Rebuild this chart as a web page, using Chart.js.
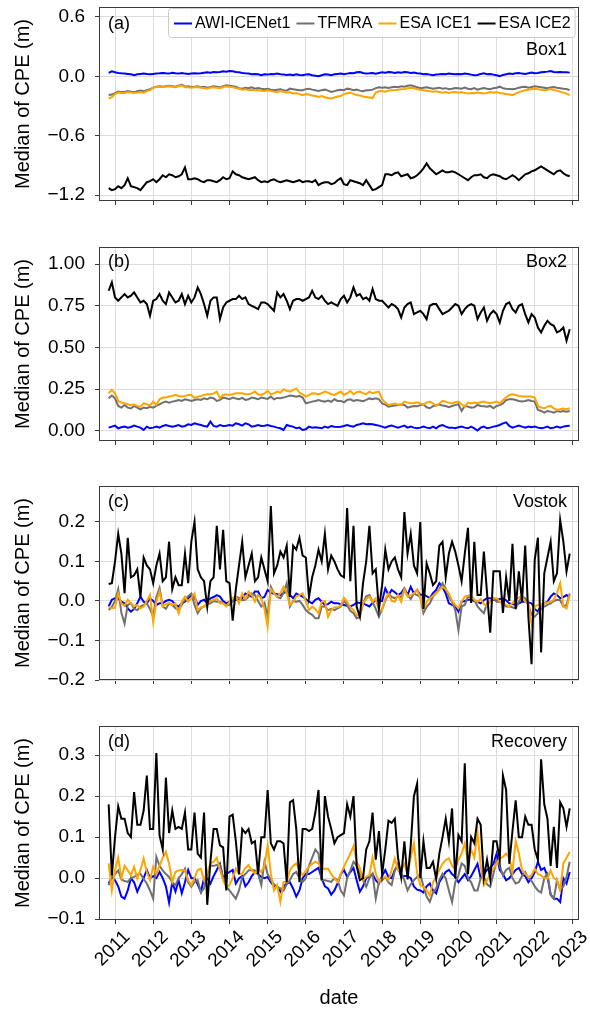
<!DOCTYPE html>
<html><head><meta charset="utf-8">
<script src="https://cdn.jsdelivr.net/npm/chart.js@4.4.1/dist/chart.umd.min.js"></script>
<style>
html,body{margin:0;padding:0;background:#fff;}
body{width:590px;height:1010px;position:relative;overflow:hidden;}
canvas{position:absolute;left:0;}
</style></head><body>
<canvas id="pa" width="590" height="215" style="top:0px"></canvas>
<canvas id="pb" width="590" height="215" style="top:240px"></canvas>
<canvas id="pc" width="590" height="215" style="top:479px"></canvas>
<canvas id="pd" width="590" height="291" style="top:719px"></canvas>
<script>
// ---- categories: monthly dates, Nov 2010 .. Dec 2022 (decimal years) ----
const N_MONTHS = 146;
const months = Array.from({length: N_MONTHS}, (_, i) => 2010 + (10 + i) / 12);
const yearTicks = [2011,2012,2013,2014,2015,2016,2017,2018,2019,2020,2021,2022,2023];
const seriesNames = ['AWI-ICENet1','TFMRA','ESA ICE1','ESA ICE2'];

// ---- Panel (a) Box1 ----
const awiA = [0.034,0.05,
0.04,0.034,0.03,0.027,0.024,0.02,0.01,0.02,0.024,0.027,0.022,0.02,
0.024,0.027,0.03,0.034,0.03,0.027,0.035,0.03,0.027,0.034,0.027,0.024,
0.027,0.03,0.027,0.03,0.035,0.04,0.037,0.044,0.04,0.044,0.05,0.047,
0.054,0.05,0.044,0.04,0.034,0.03,0.027,0.02,0.024,0.02,0.01,0.02,
0.017,0.024,0.02,0.027,0.02,0.017,0.014,0.017,0.01,0.02,0.014,0.01,
0.017,0.02,0.01,0.005,0.0,0.01,0.02,0.017,0.01,0.02,0.024,0.027,
0.02,0.027,0.034,0.03,0.04,0.044,0.034,0.027,0.03,0.034,0.027,0.034,
0.04,0.037,0.044,0.04,0.034,0.04,0.037,0.044,0.04,0.034,0.037,0.03,
0.027,0.02,0.024,0.017,0.01,0.017,0.02,0.024,0.02,0.027,0.024,0.02,
0.024,0.02,0.027,0.024,0.017,0.01,0.014,0.024,0.03,0.02,0.024,0.017,
0.01,0.0,0.014,0.02,0.027,0.024,0.03,0.034,0.027,0.024,0.03,0.037,
0.03,0.034,0.04,0.044,0.047,0.054,0.044,0.04,0.044,0.04,0.04,0.037];
const tfmraA = [-0.19,-0.185,
-0.17,-0.155,-0.16,-0.158,-0.15,-0.155,-0.16,-0.152,-0.145,-0.15,-0.14,-0.13,
-0.115,-0.105,-0.1,-0.105,-0.1,-0.095,-0.1,-0.105,-0.095,-0.085,-0.105,-0.1,
-0.108,-0.105,-0.1,-0.11,-0.105,-0.115,-0.108,-0.1,-0.105,-0.112,-0.1,-0.09,
-0.095,-0.1,-0.105,-0.12,-0.125,-0.115,-0.12,-0.112,-0.125,-0.118,-0.125,-0.13,
-0.125,-0.135,-0.14,-0.135,-0.13,-0.14,-0.145,-0.125,-0.13,-0.135,-0.142,-0.14,
-0.13,-0.125,-0.135,-0.142,-0.148,-0.14,-0.135,-0.145,-0.158,-0.15,-0.142,-0.135,
-0.14,-0.125,-0.13,-0.14,-0.135,-0.145,-0.15,-0.142,-0.14,-0.135,-0.12,-0.11,
-0.115,-0.11,-0.118,-0.11,-0.105,-0.11,-0.1,-0.105,-0.095,-0.09,-0.1,-0.11,
-0.12,-0.115,-0.11,-0.118,-0.125,-0.12,-0.115,-0.125,-0.12,-0.13,-0.125,-0.118,
-0.12,-0.125,-0.115,-0.125,-0.13,-0.12,-0.135,-0.125,-0.118,-0.125,-0.13,-0.12,
-0.115,-0.105,-0.12,-0.125,-0.128,-0.132,-0.125,-0.115,-0.108,-0.105,-0.115,-0.108,
-0.1,-0.105,-0.11,-0.115,-0.12,-0.112,-0.108,-0.115,-0.12,-0.125,-0.128,-0.14];
const ice1A = [-0.225,-0.21,
-0.18,-0.165,-0.17,-0.168,-0.16,-0.165,-0.17,-0.165,-0.16,-0.165,-0.15,-0.14,
-0.118,-0.105,-0.105,-0.11,-0.102,-0.1,-0.105,-0.11,-0.1,-0.092,-0.11,-0.112,
-0.115,-0.11,-0.108,-0.115,-0.118,-0.125,-0.115,-0.11,-0.115,-0.12,-0.108,-0.102,
-0.105,-0.11,-0.118,-0.125,-0.135,-0.13,-0.14,-0.135,-0.142,-0.138,-0.145,-0.148,
-0.142,-0.15,-0.155,-0.16,-0.15,-0.158,-0.165,-0.16,-0.175,-0.17,-0.18,-0.19,
-0.18,-0.185,-0.195,-0.2,-0.21,-0.2,-0.212,-0.22,-0.225,-0.215,-0.205,-0.2,
-0.18,-0.172,-0.165,-0.178,-0.19,-0.195,-0.205,-0.21,-0.215,-0.22,-0.165,-0.15,
-0.148,-0.155,-0.145,-0.14,-0.138,-0.135,-0.13,-0.128,-0.12,-0.115,-0.12,-0.13,
-0.135,-0.142,-0.145,-0.15,-0.155,-0.152,-0.158,-0.165,-0.16,-0.168,-0.16,-0.158,
-0.165,-0.16,-0.17,-0.175,-0.168,-0.172,-0.165,-0.17,-0.175,-0.168,-0.16,-0.165,
-0.158,-0.17,-0.175,-0.18,-0.185,-0.19,-0.175,-0.16,-0.15,-0.142,-0.135,-0.128,
-0.125,-0.13,-0.135,-0.14,-0.135,-0.128,-0.138,-0.145,-0.155,-0.165,-0.175,-0.19];
const ice2A = [
-1.13,-1.15,-1.14,-1.11,-1.13,-1.10,-1.03,-1.11,-1.12,-1.13,-1.15,-1.11,
-1.07,-1.06,-1.04,-1.07,-1.04,-1.00,-1.02,-0.99,-1.00,-1.02,-1.01,-0.99,
-0.92,-1.04,-1.04,-1.03,-1.04,-1.06,-1.07,-1.05,-1.05,-1.06,-1.07,-1.05,
-1.02,-1.04,-1.03,-0.96,-0.99,-1.00,-1.02,-1.03,-1.04,-1.03,-1.02,-1.05,
-1.07,-1.06,-1.07,-1.05,-1.04,-1.06,-1.07,-1.06,-1.05,-1.06,-1.07,-1.06,
-1.05,-1.07,-1.06,-1.06,-1.07,-1.05,-1.10,-1.08,-1.07,-1.07,-1.09,-1.08,
-1.05,-1.03,-1.09,-1.10,-1.05,-1.06,-1.07,-1.08,-1.10,-1.05,-1.10,-1.15,
-1.14,-1.12,-1.10,-0.99,-0.99,-1.00,-0.98,-0.97,-1.01,-1.00,-0.99,-1.03,
-1.02,-1.00,-0.97,-0.93,-0.88,-0.93,-0.96,-0.99,-0.97,-0.95,-0.97,-0.97,
-0.96,-0.97,-0.99,-1.01,-1.03,-1.05,-1.02,-1.00,-1.00,-0.99,-1.02,-1.03,
-1.00,-0.99,-1.00,-1.01,-1.03,-1.04,-1.02,-1.00,-1.02,-1.05,-1.02,-0.99,
-0.98,-0.96,-0.95,-0.93,-0.91,-0.93,-0.95,-0.97,-0.99,-0.96,-0.95,-0.98,
-1.00,-1.01];

// ---- Panel (b) Box2 ----
const awiB = [
0.02,0.026,0.032,0.016,0.022,0.026,0.02,0.024,0.032,0.026,0.02,0.006,
0.026,0.016,0.02,0.026,0.02,0.03,0.036,0.03,0.026,0.03,0.036,0.026,
0.03,0.04,0.036,0.046,0.04,0.036,0.03,0.026,0.056,0.03,0.026,0.036,
0.03,0.032,0.036,0.032,0.046,0.04,0.032,0.046,0.04,0.026,0.03,0.036,
0.03,0.032,0.036,0.03,0.026,0.02,0.016,0.006,0.036,0.03,0.026,0.016,
0.02,0.006,0.01,0.026,0.02,0.022,0.02,0.016,0.026,0.02,0.03,0.026,
0.024,0.026,0.03,0.036,0.03,0.026,0.036,0.04,0.046,0.04,0.042,0.04,
0.036,0.032,0.026,0.02,0.028,0.032,0.026,0.02,0.026,0.032,0.02,0.026,
0.02,0.016,0.02,0.026,0.02,0.016,0.026,0.016,0.03,0.036,0.026,0.02,
0.02,0.016,0.022,0.026,0.02,0.016,0.026,0.016,0.003,0.02,0.026,0.016,
0.02,0.026,0.03,0.036,0.046,0.052,0.03,0.02,0.026,0.032,0.026,0.02,
0.026,0.022,0.026,0.02,0.016,0.02,0.026,0.016,0.02,0.026,0.02,0.026,
0.03,0.032];
const tfmraB = [
0.196,0.212,0.196,0.15,0.14,0.156,0.14,0.135,0.15,0.14,0.13,0.14,
0.136,0.145,0.14,0.15,0.16,0.17,0.176,0.17,0.176,0.18,0.186,0.18,
0.19,0.186,0.18,0.186,0.19,0.186,0.196,0.19,0.2,0.196,0.18,0.186,
0.2,0.196,0.19,0.2,0.194,0.19,0.198,0.186,0.19,0.2,0.196,0.19,
0.2,0.196,0.192,0.206,0.19,0.198,0.196,0.2,0.206,0.212,0.21,0.205,
0.21,0.2,0.166,0.17,0.176,0.18,0.186,0.18,0.176,0.182,0.175,0.19,
0.18,0.18,0.172,0.186,0.19,0.18,0.186,0.182,0.178,0.186,0.195,0.19,
0.196,0.19,0.165,0.158,0.146,0.15,0.152,0.155,0.158,0.156,0.14,0.145,
0.15,0.148,0.155,0.158,0.142,0.136,0.148,0.155,0.158,0.152,0.15,0.143,
0.15,0.155,0.16,0.12,0.15,0.146,0.14,0.142,0.156,0.15,0.148,0.145,
0.15,0.136,0.15,0.155,0.165,0.185,0.19,0.19,0.186,0.18,0.176,0.18,
0.186,0.18,0.176,0.126,0.12,0.11,0.12,0.116,0.11,0.12,0.115,0.12,
0.115,0.12];
const ice1B = [
0.226,0.246,0.226,0.18,0.17,0.166,0.16,0.155,0.158,0.15,0.146,0.166,
0.16,0.152,0.176,0.156,0.19,0.2,0.2,0.206,0.21,0.216,0.21,0.206,
0.21,0.216,0.216,0.198,0.206,0.21,0.216,0.22,0.22,0.225,0.236,0.196,
0.216,0.22,0.216,0.22,0.226,0.226,0.226,0.22,0.22,0.225,0.236,0.22,
0.216,0.225,0.24,0.22,0.225,0.236,0.23,0.25,0.24,0.236,0.245,0.255,
0.23,0.22,0.206,0.215,0.226,0.225,0.22,0.226,0.236,0.23,0.22,0.216,
0.226,0.236,0.216,0.226,0.24,0.22,0.232,0.236,0.225,0.22,0.236,0.226,
0.232,0.236,0.19,0.17,0.156,0.16,0.165,0.158,0.156,0.176,0.17,0.166,
0.168,0.172,0.165,0.158,0.17,0.176,0.166,0.15,0.165,0.18,0.176,0.17,
0.165,0.172,0.176,0.16,0.146,0.17,0.165,0.17,0.166,0.172,0.176,0.17,
0.166,0.17,0.176,0.165,0.185,0.2,0.216,0.22,0.215,0.21,0.206,0.206,
0.206,0.206,0.2,0.15,0.14,0.136,0.146,0.15,0.136,0.126,0.13,0.135,
0.13,0.136];
const ice2B = [
0.84,0.89,0.80,0.78,0.80,0.82,0.80,0.81,0.83,0.80,0.77,0.78,
0.76,0.69,0.78,0.79,0.82,0.78,0.76,0.83,0.80,0.77,0.78,0.82,
0.76,0.81,0.77,0.80,0.86,0.82,0.76,0.69,0.78,0.80,0.80,0.67,
0.74,0.77,0.78,0.79,0.79,0.81,0.79,0.80,0.76,0.75,0.74,0.73,
0.77,0.77,0.76,0.74,0.72,0.83,0.80,0.82,0.78,0.73,0.78,0.79,
0.79,0.78,0.79,0.80,0.84,0.80,0.79,0.81,0.78,0.76,0.77,0.76,
0.75,0.79,0.81,0.77,0.80,0.86,0.81,0.82,0.79,0.80,0.78,0.85,
0.79,0.78,0.78,0.76,0.74,0.76,0.75,0.73,0.68,0.74,0.76,0.77,
0.70,0.71,0.72,0.70,0.67,0.75,0.76,0.76,0.73,0.70,0.71,0.72,
0.74,0.76,0.75,0.70,0.73,0.75,0.76,0.75,0.67,0.71,0.74,0.66,
0.70,0.72,0.70,0.65,0.72,0.76,0.77,0.73,0.71,0.75,0.76,0.70,
0.65,0.70,0.68,0.62,0.59,0.63,0.66,0.64,0.63,0.59,0.60,0.62,
0.54,0.61];

// ---- Panel (c) Vostok ----
const awiC = [
-0.014,0.003,0.007,0.007,-0.002,-0.006,-0.019,-0.027,-0.02,-0.006,0.011,-0.002,
-0.006,0.007,0.0,-0.01,-0.006,-0.006,0.0,0.003,0.0,-0.01,-0.014,-0.006,
-0.002,0.007,0.015,0.01,-0.01,0.0,0.003,-0.006,0.007,0.01,0.015,0.011,
0.0,-0.006,-0.002,0.0,0.003,0.003,0.007,0.019,0.015,0.011,0.024,0.024,
0.007,0.01,0.028,0.02,0.019,0.017,0.015,0.02,0.024,0.015,0.007,0.019,
0.015,0.011,0.005,-0.002,-0.006,0.003,0.007,-0.002,-0.01,-0.008,-0.002,-0.006,
-0.006,-0.008,-0.01,-0.012,-0.014,-0.01,-0.004,-0.005,-0.006,-0.01,-0.014,-0.005,
0.003,-0.002,0.0,0.032,0.015,0.028,0.022,0.015,0.02,0.032,0.015,0.036,
0.019,0.028,0.015,0.017,0.012,0.007,0.02,0.028,0.045,0.035,0.019,-0.006,
-0.01,-0.014,-0.027,-0.002,0.0,0.003,0.003,0.0,-0.002,-0.006,0.002,0.007,
0.007,0.003,0.002,0.005,0.007,0.002,-0.006,-0.008,-0.01,-0.006,-0.002,-0.002,
-0.004,-0.006,-0.02,-0.027,-0.01,-0.006,-0.002,0.011,0.019,0.015,0.007,0.01,
0.015,0.009];
const tfmraC = [
-0.023,-0.015,0.0,0.03,-0.03,-0.057,-0.01,-0.006,-0.02,-0.023,-0.014,-0.01,
-0.006,-0.02,-0.04,0.01,0.033,-0.014,-0.02,-0.006,-0.01,-0.018,-0.023,-0.01,
0.003,0.012,0.019,-0.01,-0.031,-0.018,-0.014,-0.008,-0.006,0.0,-0.002,-0.002,
-0.006,-0.01,-0.01,0.0,0.011,0.008,0.002,0.003,0.011,0.019,0.015,0.0,
-0.014,-0.005,-0.04,0.036,0.02,0.01,0.007,0.02,0.045,-0.014,0.0,-0.002,
0.0,-0.01,-0.023,-0.03,-0.035,-0.044,-0.044,-0.014,-0.014,-0.023,-0.02,-0.023,
-0.019,-0.014,0.0,-0.01,-0.025,-0.031,-0.044,-0.04,-0.006,0.012,0.015,-0.002,
-0.02,-0.04,-0.02,0.0,0.019,0.01,0.007,0.011,0.01,0.028,0.015,0.005,
0.019,0.015,0.011,-0.031,-0.015,-0.006,0.011,0.02,0.03,0.045,0.032,0.01,
-0.002,-0.023,-0.074,-0.014,-0.01,0.011,0.007,0.003,-0.014,-0.023,-0.031,-0.006,
0.0,0.007,-0.002,-0.002,-0.006,-0.014,-0.014,-0.016,-0.019,-0.002,0.011,0.007,
-0.01,-0.035,-0.04,-0.031,-0.02,-0.014,-0.01,-0.006,0.0,0.003,0.002,-0.014,
-0.01,0.019];
const ice1C = [
-0.014,-0.019,-0.017,0.019,-0.006,-0.012,0.003,-0.006,-0.014,-0.01,-0.019,-0.014,
0.0,0.015,-0.053,-0.002,0.024,-0.014,-0.008,-0.006,-0.01,-0.006,-0.031,-0.002,
0.011,-0.002,0.007,0.019,-0.023,-0.016,-0.014,-0.006,0.0,0.003,0.007,-0.006,
-0.006,-0.014,-0.002,0.008,0.011,-0.006,0.019,0.005,0.024,0.015,-0.002,0.015,
0.007,-0.02,-0.065,0.03,0.02,0.011,0.019,0.036,0.02,-0.01,-0.002,0.011,
0.015,0.019,0.0,-0.023,-0.014,-0.02,-0.031,-0.002,0.0,-0.04,-0.023,-0.016,
-0.016,-0.012,0.008,-0.002,-0.016,-0.023,-0.035,-0.04,-0.006,0.005,0.011,-0.002,
0.007,-0.025,-0.023,0.005,0.019,0.0,-0.002,0.015,-0.002,0.03,0.011,0.015,
0.019,0.028,0.009,-0.02,-0.002,0.007,0.013,0.02,0.028,0.036,0.03,0.019,
0.0,-0.01,-0.019,-0.002,0.011,0.013,0.015,0.003,-0.002,0.005,-0.008,-0.014,
0.0,0.007,0.007,-0.002,-0.006,-0.01,-0.014,-0.005,0.003,0.009,0.011,-0.002,
-0.006,-0.057,-0.014,-0.01,-0.01,-0.006,-0.004,-0.002,0.003,0.02,0.045,-0.014,
-0.019,0.015];
const ice2C = [
0.043,0.045,0.10,0.17,0.12,0.02,0.16,0.06,0.065,0.08,0.01,0.11,
0.09,0.08,0.045,0.09,0.12,0.05,0.06,0.15,0.03,0.06,0.04,0.04,
0.12,0.045,0.15,0.20,0.08,0.06,0.05,-0.015,0.05,0.06,0.19,0.08,
0.18,0.05,0.045,-0.05,0.03,0.09,0.15,0.06,0.09,0.12,0.05,0.06,
0.11,0.08,0.05,0.24,0.07,0.09,0.125,0.11,0.14,0.01,0.14,0.13,
0.16,0.115,0.11,0.01,0.06,0.09,0.13,0.10,0.17,0.08,0.115,0.10,
0.08,0.065,0.06,0.235,0.05,0.19,-0.015,-0.04,0.045,0.10,0.19,0.07,
0.08,-0.02,0.04,0.13,0.08,0.10,0.11,0.08,0.06,0.225,0.12,0.17,
0.09,0.07,0.20,-0.02,0.095,0.07,0.04,0.05,0.14,0.15,0.06,0.12,
0.15,0.125,0.09,0.05,0.12,0.185,-0.005,0.15,0.015,0.015,0.125,0.02,
-0.08,0.075,0.075,0.075,-0.03,0.06,0.0,0.145,-0.02,0.075,0.0,0.14,
-0.04,-0.16,0.105,0.16,-0.13,0.07,0.11,0.15,0.05,0.07,0.205,0.15,
0.075,0.12];

// ---- Panel (d) Recovery ----
const awiD = [
-0.013,0.003,-0.005,-0.02,-0.045,-0.05,-0.03,0.0,-0.01,-0.033,-0.015,0.0,
0.02,0.0,0.005,0.0,0.015,0.0,-0.02,-0.06,-0.01,-0.033,-0.005,-0.037,
-0.01,0.02,0.0,0.0,-0.015,-0.033,0.0,0.0,-0.013,0.005,0.02,0.035,
0.0,0.01,0.015,0.02,-0.013,0.0,0.005,-0.02,-0.01,0.005,0.015,0.01,
0.003,0.0,0.003,-0.01,-0.02,-0.02,-0.033,-0.02,-0.013,-0.01,-0.025,-0.045,
-0.03,0.0,0.01,0.01,0.015,0.02,0.025,0.0,-0.02,-0.025,-0.04,-0.03,
-0.013,0.01,0.02,0.003,0.015,0.025,-0.005,-0.033,-0.02,0.0,0.005,0.01,
-0.005,-0.013,0.005,0.02,0.003,0.0,0.02,0.03,0.003,0.005,0.005,0.0,
-0.02,-0.028,-0.03,-0.035,-0.02,-0.013,-0.03,-0.037,-0.01,0.003,0.015,0.02,
0.01,0.003,-0.01,0.0,0.01,-0.005,0.005,0.02,0.035,0.0,0.01,0.02,
0.025,0.035,0.06,0.02,0.01,-0.005,0.0,0.01,0.02,0.025,0.01,0.005,
-0.01,0.0,0.015,0.04,0.02,0.025,0.005,-0.04,-0.05,-0.05,-0.058,0.0,
-0.013,0.015];
const tfmraD = [
-0.017,0.003,0.01,0.019,-0.003,-0.007,-0.009,0.0,0.003,0.008,0.011,-0.002,
-0.013,-0.03,-0.05,0.052,0.03,0.019,0.01,0.003,-0.01,-0.017,0.0,0.01,
0.023,-0.01,-0.021,-0.01,-0.005,-0.035,-0.025,0.01,0.03,0.03,0.032,0.032,
0.0,-0.021,-0.03,-0.04,-0.05,-0.03,0.003,0.01,0.019,0.02,0.019,0.01,
-0.017,0.04,0.01,-0.005,-0.015,-0.021,-0.025,-0.03,-0.015,-0.005,0.01,0.015,
0.0,-0.009,0.0,0.03,0.05,0.07,0.06,-0.005,-0.005,-0.007,-0.009,0.0,
-0.005,-0.03,-0.042,0.0,0.019,0.04,0.03,0.011,-0.005,-0.021,0.0,0.011,
-0.05,-0.009,-0.005,0.003,-0.01,-0.017,0.02,0.036,0.011,-0.005,-0.03,-0.015,
-0.005,0.003,0.011,-0.02,-0.045,-0.058,-0.035,-0.025,-0.005,0.011,0.0,-0.03,
-0.058,-0.01,0.007,0.036,0.03,0.0,-0.01,-0.03,-0.03,0.0,0.003,-0.015,
-0.021,0.01,0.044,0.03,0.007,0.02,0.025,0.0,-0.013,-0.01,0.005,0.015,
0.0,-0.007,-0.02,-0.03,-0.035,0.0,0.011,-0.04,-0.05,-0.005,-0.028,-0.02,
0.003,0.04];
const ice1D = [
0.036,-0.03,0.02,0.05,0.0,0.03,0.019,0.007,0.028,-0.001,0.02,0.048,
0.015,-0.005,0.028,0.01,0.03,0.05,0.064,0.036,-0.009,0.015,0.019,0.02,
0.019,-0.005,-0.017,0.0,0.02,0.023,-0.005,0.015,0.036,0.04,0.05,0.02,
-0.005,-0.021,-0.017,0.0,0.023,0.01,0.011,0.025,0.032,0.02,0.011,0.023,
0.015,0.03,0.08,0.011,-0.03,-0.017,-0.058,-0.01,-0.009,0.019,0.03,0.036,
0.02,0.007,0.018,0.028,0.035,0.04,0.036,0.023,0.023,0.023,0.01,-0.001,
-0.009,0.01,0.028,0.044,0.06,0.078,0.04,0.025,-0.005,0.003,0.007,0.05,
0.011,-0.009,0.0,0.003,-0.005,0.02,0.048,0.019,0.019,0.035,0.011,0.05,
0.085,0.011,-0.017,-0.021,-0.03,-0.042,-0.01,0.003,0.02,0.035,0.044,0.048,
0.03,0.023,0.045,0.06,0.085,0.04,0.07,0.05,0.113,0.03,-0.017,-0.005,
0.01,0.023,0.035,0.048,0.052,0.06,0.05,0.015,0.09,0.06,0.02,0.011,
0.003,0.007,0.023,0.01,0.007,0.0,-0.001,0.019,0.0,-0.005,-0.03,0.036,
0.05,0.064];
const ice2D = [
0.18,0.007,0.10,0.175,0.145,0.145,0.11,0.10,0.21,0.13,0.13,0.165,
0.25,0.12,0.12,0.305,0.105,0.07,0.245,0.11,0.165,0.12,0.125,0.12,
0.16,0.07,0.07,0.16,0.06,0.05,0.16,-0.065,0.04,0.12,0.12,0.08,
0.075,-0.03,0.15,0.155,0.09,0.01,0.12,0.11,0.12,0.085,0.09,0.01,
0.10,0.10,0.215,0.085,0.07,0.09,0.09,0.085,-0.01,0.185,0.19,0.12,
-0.01,0.12,0.12,0.115,0.12,0.16,0.215,-0.005,0.20,0.15,0.12,0.085,
0.10,0.105,0.11,0.18,0.15,0.20,0.03,-0.005,0.0,0.07,0.09,0.16,
0.045,0.115,0.01,0.07,0.14,0.135,0.145,0.05,0.003,0.09,-0.003,0.08,
0.20,0.23,0.0,0.09,0.025,0.025,0.04,-0.002,0.06,0.10,0.145,0.09,
0.17,0.0,0.105,0.09,0.28,0.01,0.10,0.085,0.145,0.13,0.0,0.045,
-0.002,0.09,0.09,0.045,0.25,0.215,0.035,0.115,0.19,0.10,0.10,0.15,
0.13,0.13,0.07,0.045,0.29,0.18,0.145,0.03,0.125,0.025,0.185,0.17,
0.125,0.17];

// ---- y tick values / labels per panel ----
const yTicksA = [-1.2,-0.6,0.0,0.6],  yLabelsA = ['\u22121.2','\u22120.6','0.0','0.6'];
const yTicksB = [0,0.25,0.5,0.75,1.0], yLabelsB = ['0.00','0.25','0.50','0.75','1.00'];
const yTicksC = [-0.2,-0.1,0,0.1,0.2], yLabelsC = ['\u22120.2','\u22120.1','0.0','0.1','0.2'];
const yTicksD = [-0.1,0,0.1,0.2,0.3],  yLabelsD = ['\u22120.1','0.0','0.1','0.2','0.3'];

const colors = ['#0000ff','#707070','#ffa500','#000000'];
const FONT = "'Liberation Sans', Arial, Helvetica, sans-serif";

const framePlugin = {
  id: 'frame',
  afterDatasetsDraw(chart) {
    const {ctx, chartArea: a} = chart;
    ctx.save();
    ctx.strokeStyle = '#3a3a3a';
    ctx.lineWidth = 1;
    ctx.strokeRect(Math.round(a.left) + 0.5, Math.round(a.top) + 0.5,
                   Math.round(a.width) - 1, Math.round(a.height) - 1);
    ctx.restore();
  }
};

const annotPlugin = {
  id: 'annot',
  afterDraw(chart, args, o) {
    if (!o || !o.left) return;
    const {ctx, chartArea: a} = chart;
    ctx.save();
    ctx.fillStyle = '#000';
    ctx.font = '18px ' + FONT;
    ctx.textBaseline = 'middle';
    ctx.textAlign = 'left';
    ctx.fillText(o.left, a.left + 9, a.top + o.dyLeft);
    ctx.textAlign = 'right';
    ctx.fillText(o.right, a.right - 12, a.top + o.dyRight);
    if (o.legend) {
      ctx.font = '16px ' + FONT;
      const ds = chart.data.datasets;
      const order = [0,1,2,3];
      const gap = 6;
      let x = a.left + 75;
      const y0 = a.top + 1, h = 29;
      let w = 0;
      order.forEach((k, j) => { w += 18 + 3 + ctx.measureText(ds[k].label).width + (j < 3 ? gap : 0); });
      const bx = x - 6, bw = w + 10;
      ctx.fillStyle = 'rgba(255,255,255,0.85)';
      ctx.strokeStyle = '#cccccc';
      ctx.lineWidth = 1;
      ctx.beginPath();
      if (ctx.roundRect) ctx.roundRect(bx + 0.5, y0 + 0.5, bw, h, 3); else ctx.rect(bx + 0.5, y0 + 0.5, bw, h);
      ctx.fill(); ctx.stroke();
      const yc = y0 + h / 2 + 1;
      ctx.textAlign = 'left';
      order.forEach((k) => {
        ctx.strokeStyle = ds[k].borderColor;
        ctx.lineWidth = 2;
        ctx.beginPath(); ctx.moveTo(x, yc); ctx.lineTo(x + 18, yc); ctx.stroke();
        ctx.fillStyle = '#000';
        ctx.fillText(ds[k].label, x + 21, yc);
        x += 18 + 3 + ctx.measureText(ds[k].label).width + gap;
      });
    }
    ctx.restore();
  }
};

function buildPanel(id, series, yMin, yMax, yTicks, yLabels, annot, bottom) {
  const datasets = series.map((vals, k) => ({
    label: seriesNames[k],
    data: vals.map((v, i) => ({x: months[i], y: v})),
    borderColor: colors[k],
    backgroundColor: colors[k],
    borderWidth: 2,
    pointRadius: 0,
    tension: 0,
    fill: false,
    order: 3 - k
  }));
  return new Chart(document.getElementById(id), {
    type: 'line',
    data: {datasets},
    options: {
      responsive: false,
      animation: false,
      events: [],
      layout: {padding: {top: 7, right: 11, left: 0, bottom: 0}},
      plugins: {legend: {display: false}, tooltip: {enabled: false}, annot},
      scales: {
        x: {
          type: 'linear', min: 2010.58, max: 2023.16,
          afterBuildTicks: s => { s.ticks = yearTicks.map(v => ({value: v})); },
          afterFit: s => { s.height = bottom ? 90 : 14; s.paddingLeft = 0; s.paddingRight = 0; s.paddingTop = 0; s.paddingBottom = 0; },
          grid: {color: '#dcdcdc', lineWidth: 1, tickColor: '#3a3a3a', tickLength: 4, drawTicks: true},
          border: {display: false},
          ticks: {
            display: bottom, autoSkip: false, maxRotation: 45, minRotation: 45,
            font: {family: FONT, size: 19}, color: '#000', padding: 2, labelOffset: 12,
            callback: v => String(v)
          },
          title: {display: bottom, text: 'date', font: {family: FONT, size: 20}, color: '#000', padding: {top: 0, bottom: 0}}
        },
        y: {
          min: yMin, max: yMax,
          afterBuildTicks: s => { s.ticks = yTicks.map(v => ({value: v})); },
          afterFit: s => { s.width = 99; s.paddingTop = 0; s.paddingBottom = 0; s.paddingLeft = 0; s.paddingRight = 0; },
          grid: {color: '#dcdcdc', lineWidth: 1, tickColor: '#3a3a3a', tickLength: 4},
          border: {display: false},
          ticks: {font: {family: FONT, size: 19}, color: '#000', padding: 10,
                  callback: (v, i) => yLabels[i]},
          title: {display: true, text: 'Median of CPE (m)', font: {family: FONT, size: 20}, color: '#000',
                  padding: {top: 11, bottom: 0}}
        }
      }
    },
    plugins: [framePlugin, annotPlugin]
  });
}

buildPanel('pa', [awiA, tfmraA, ice1A, ice2A], -1.26, 0.70, yTicksA, yLabelsA,
  {left: '(a)', right: 'Box1', dyLeft: 17, dyRight: 43, legend: true}, false);
buildPanel('pb', [awiB, tfmraB, ice1B, ice2B], -0.06, 1.102, yTicksB, yLabelsB,
  {left: '(b)', right: 'Box2', dyLeft: 15, dyRight: 15}, false);
buildPanel('pc', [awiC, tfmraC, ice1C, ice2C], -0.2, 0.291, yTicksC, yLabelsC,
  {left: '(c)', right: 'Vostok', dyLeft: 16, dyRight: 16}, false);
buildPanel('pd', [awiD, tfmraD, ice1D, ice2D], -0.102, 0.371, yTicksD, yLabelsD,
  {left: '(d)', right: 'Recovery', dyLeft: 16, dyRight: 16}, true);
</script>
</body></html>
